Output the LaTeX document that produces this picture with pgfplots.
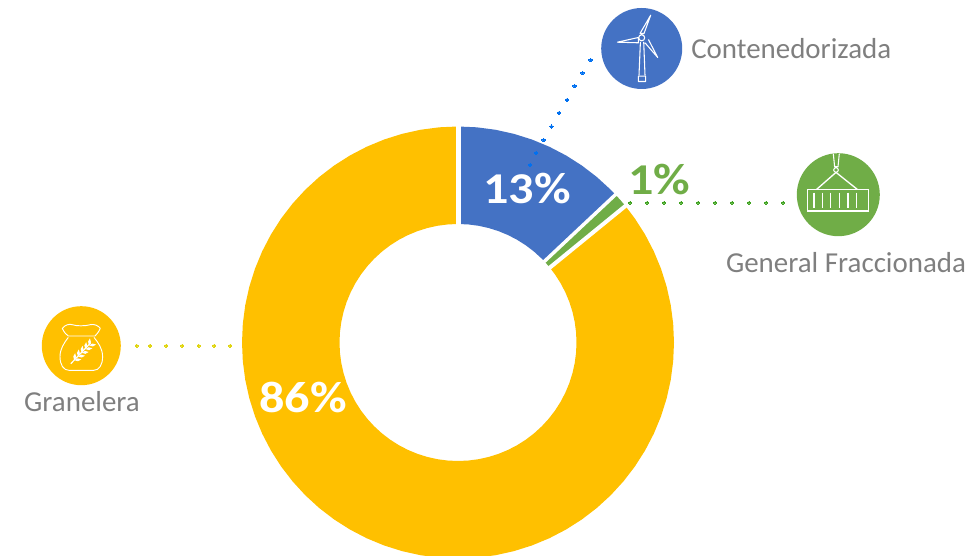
\documentclass[border=0pt]{standalone}
\usepackage{pgfplots}
\pgfplotsset{compat=1.18}
\usepackage{fontspec}
\setmainfont{Carlito}
\newfontfamily\pctfont[FakeStretch=1.14]{Carlito}
\definecolor{cblue}{HTML}{4472C4}
\definecolor{cgreen}{HTML}{70AD47}
\definecolor{cyellow}{HTML}{FFC000}
\definecolor{cgrey}{HTML}{7F7F7F}
\definecolor{dblue}{HTML}{0070F0}
\definecolor{dgreen}{HTML}{3FA320}
\definecolor{dyellow}{HTML}{E0D510}
\begin{document}
\begin{tikzpicture}
\useasboundingbox (0,0) rectangle (730.5pt,417pt);
\begin{axis}[at={(0,0)},anchor=south west,x=0.75pt,y=0.75pt,xmin=-458,xmax=516,ymin=-213.5,ymax=342.5,hide axis,
  scale only axis,no markers]
% Slices: 13 % (90 to 43.2 deg), 1 % (43.2 to 39.2 deg), 86 % (39.2 to -270 deg)
\addplot[fill=cblue,draw=none,data cs=polar] coordinates {
(90,216)(85,216)(80,216)(75,216)(70,216)(65,216)(60,216)(55,216)(50,216)(45,216)(43.2,216)
(43.2,118.5)(45,118.5)(50,118.5)(55,118.5)(60,118.5)(65,118.5)(70,118.5)(75,118.5)(80,118.5)(85,118.5)(90,118.5)};
\addplot[fill=cgreen,draw=none,data cs=polar] coordinates {
(43.2,216)(41.2,216)(39.2,216)(39.2,118.5)(41.2,118.5)(43.2,118.5)};
\addplot[fill=cyellow,draw=none,data cs=polar] coordinates {
(39.2,216)(35,216)(30,216)(25,216)(20,216)(15,216)(10,216)(5,216)(0,216)
(-5,216)(-10,216)(-15,216)(-20,216)(-25,216)(-30,216)(-35,216)(-40,216)(-45,216)(-50,216)
(-55,216)(-60,216)(-65,216)(-70,216)(-75,216)(-80,216)(-85,216)(-90,216)(-95,216)(-100,216)
(-105,216)(-110,216)(-115,216)(-120,216)(-125,216)(-130,216)(-135,216)(-140,216)(-145,216)(-150,216)
(-155,216)(-160,216)(-165,216)(-170,216)(-175,216)(-180,216)(-185,216)(-190,216)(-195,216)(-200,216)
(-205,216)(-210,216)(-215,216)(-220,216)(-225,216)(-230,216)(-235,216)(-240,216)(-245,216)(-250,216)
(-255,216)(-260,216)(-265,216)(-270,216)
(-270,118.5)(-265,118.5)(-260,118.5)(-255,118.5)(-250,118.5)(-245,118.5)(-240,118.5)(-235,118.5)(-230,118.5)
(-225,118.5)(-220,118.5)(-215,118.5)(-210,118.5)(-205,118.5)(-200,118.5)(-195,118.5)(-190,118.5)(-185,118.5)(-180,118.5)
(-175,118.5)(-170,118.5)(-165,118.5)(-160,118.5)(-155,118.5)(-150,118.5)(-145,118.5)(-140,118.5)(-135,118.5)(-130,118.5)
(-125,118.5)(-120,118.5)(-115,118.5)(-110,118.5)(-105,118.5)(-100,118.5)(-95,118.5)(-90,118.5)(-85,118.5)(-80,118.5)
(-75,118.5)(-70,118.5)(-65,118.5)(-60,118.5)(-55,118.5)(-50,118.5)(-45,118.5)(-40,118.5)(-35,118.5)(-30,118.5)
(-25,118.5)(-20,118.5)(-15,118.5)(-10,118.5)(-5,118.5)(0,118.5)(5,118.5)(10,118.5)(15,118.5)(20,118.5)(25,118.5)(30,118.5)(35,118.5)(39.2,118.5)};
% separators
\addplot[white,line width=3.75pt,data cs=polar] coordinates {(90,105)(90,230)};
\addplot[white,line width=2.6pt,data cs=polar] coordinates {(43.2,105)(43.2,230)};
\addplot[white,line width=3pt,data cs=polar] coordinates {(39.2,105)(39.2,230)};
% leader dots
\addplot[only marks,mark=*,color=dblue,mark size=1.3pt,line width=0pt] coordinates {
(132.7,282.5)(124.5,269.5)(116.7,256.5)(109,242.5)(101,229.5)(93.5,216)(85.7,202.5)(78,189.5)(72,177.5)};
\addplot[only marks,mark=*,color=dgreen,mark size=1.05pt,line width=0pt] coordinates {
(172,139.8)(189,139.8)(206,139.8)(223,139.8)(240,139.8)(257,139.8)(274,139.8)(291,139.8)(308,139.8)(325,139.8)};
\addplot[only marks,mark=*,color=dyellow,mark size=1.25pt,line width=0pt] coordinates {
(-321.3,-3.2)(-308,-3.2)(-291.7,-3.2)(-275.7,-3.2)(-259.3,-3.2)(-243.7,-3.2)(-227.7,-3.2)};
% turbine icon
\begin{scope}[shift={(axis cs:183.7,294)},x=0.75pt,y=-0.75pt]
\fill[cblue] (0,0) circle[radius=40.5*0.75pt];
\draw[white,line width=0.8pt,line join=round]
 (-1.7,-15)--(9,-33.3)--(2.3,-15)--cycle
 (-3.3,-11)--(-24.3,-6.3)--(-3.3,-5.7)--cycle
 (6.7,-9)--(16,9)--(3.3,-5.7)
 (0,-10.7) circle[radius=3*0.75pt]
 (-1.3,-6.7)--(-2.7,26.7) (2,-6.7)--(3.3,26.7)
 (-3.3,27.7) rectangle (4,33);
\end{scope}
% container icon
\begin{scope}[shift={(axis cs:380.3,147.8)},x=0.75pt,y=-0.75pt]
\fill[cgreen] (0,0) circle[radius=41.5*0.75pt];
\draw[white,line width=0.8pt] (-31,-5.3) rectangle (30.3,16.3);
\draw[white,line width=1pt] (-24.3,-2)--(-24.3,13) (-16,-2)--(-16,13) (-7.7,-2)--(-7.7,13) (1,-2)--(1,13) (9.7,-2)--(9.7,13) (18.3,-2)--(18.3,13);
\draw[white,line width=1pt] (-21.7,-5.3)--(-2.3,-22.3)--(19,-5.3);
\draw[white,line width=0.8pt] (-2.3,-24.7) circle[radius=2.3*0.75pt] (-5,-41)--(-3.7,-28)--(-0.3,-28)--(1,-41);
\end{scope}
% sack icon
\begin{scope}[shift={(axis cs:-376.7,-3.2)},x=0.75pt,y=-0.75pt]
\fill[cyellow] (0,0) circle[radius=39.5*0.75pt];
\draw[white,line width=0.7pt,line join=round]
 (-19,-17.3) .. controls (-16,-21) and (-12,-22) .. (-9,-21) .. controls (-5,-19.5) and (4,-19.5) .. (9,-21)
 .. controls (13,-22) and (17,-20) .. (19,-17.3) .. controls (17,-13) and (15,-11) .. (13.7,-9.7) -- (-13,-9.7)
 .. controls (-15,-11) and (-17,-13) .. (-19,-17.3) -- cycle;
\draw[white,line width=0.7pt]
 (-13,-8.3) .. controls (-17,-3) and (-21.3,3) .. (-21.3,11) .. controls (-21.3,19) and (-18,24.7) .. (-12,24.7)
 -- (12,24.7) .. controls (18,24.7) and (21.3,19) .. (21.3,11) .. controls (21.3,3) and (17,-3) .. (12.7,-8.3);
\draw[white,line width=0.9pt] (-10.5,18)--(9.5,-3);
\pgfplotsinvokeforeach{0,1,2,3,4}{
 \fill[white] ({-7+#1*3.7},{14.5-#1*3.7}) to[bend left=45] +(0.8,-7) to[bend left=45] ({-7+#1*3.7},{14.5-#1*3.7});
 \fill[white] ({-7+#1*3.7},{14.5-#1*3.7}) to[bend right=45] +(7,-0.8) to[bend right=45] ({-7+#1*3.7},{14.5-#1*3.7});
}
\end{scope}
% texts
\node[anchor=west,text=cgrey,font=\fontsize{21.7}{24}\selectfont,inner sep=0pt] at (axis cs:233,293.5) {Contenedorizada};
\node[text=cgrey,font=\fontsize{21.7}{24}\selectfont,inner sep=0pt] at (axis cs:388,79.5) {General Fraccionada};
\node[text=cgrey,font=\fontsize{21.7}{24}\selectfont,inner sep=0pt] at (axis cs:-376,-59.5) {Granelera};
\node[text=white,font=\fontsize{33}{36}\pctfont\bfseries,inner sep=0pt] at (axis cs:69,154) {13\%};
\node[text=white,font=\fontsize{33}{36}\pctfont\bfseries,inner sep=0pt] at (axis cs:-155,-54.5) {86\%};
\node[text=cgreen,font=\fontsize{33}{36}\pctfont\bfseries,inner sep=0pt] at (axis cs:201,162.5) {1\%};
\end{axis}
\end{tikzpicture}
\end{document}
